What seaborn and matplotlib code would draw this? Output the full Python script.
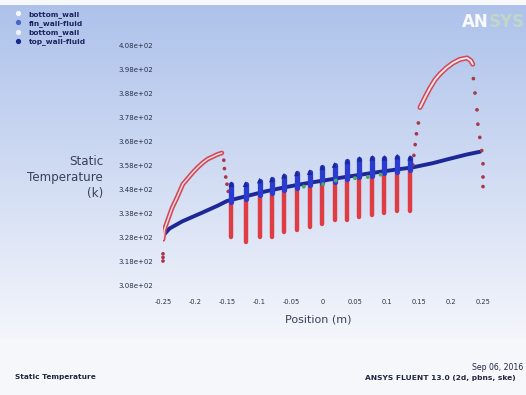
import numpy as np
import pandas as pd
import matplotlib
matplotlib.use("Agg")
import matplotlib.pyplot as plt
from matplotlib.lines import Line2D
import seaborn as sns

# ---------------- data ----------------
x_ticks = [-0.25, -0.2, -0.15, -0.1, -0.05, 0.0, 0.05, 0.1, 0.15, 0.2, 0.25]
x_tick_labels = ["-0.25", "-0.2", "-0.15", "-0.1", "-0.05", "0", "0.05", "0.1", "0.15", "0.2", "0.25"]
y_ticks = [308, 318, 328, 338, 348, 358, 368, 378, 388, 398, 408]
y_tick_labels = ["3.08e+02", "3.18e+02", "3.28e+02", "3.38e+02", "3.48e+02", "3.58e+02",
                 "3.68e+02", "3.78e+02", "3.88e+02", "3.98e+02", "4.08e+02"]

legend_labels = ["bottom_wall", "fin_wall-fluid", "bottom_wall", "top_wall-fluid"]

# centre line (dark blue)
center_x = [-0.25, -0.24, -0.22, -0.19, -0.165, -0.15, -0.12, -0.09, -0.06, -0.03, 0.0,
            0.03, 0.06, 0.09, 0.12, 0.14, 0.172, 0.198, 0.225, 0.245]
center_T = [328.5, 331.5, 334.5, 338.0, 341.0, 343.0, 345.0, 347.0, 348.7, 350.2, 351.5,
            352.8, 354.0, 355.2, 356.3, 357.0, 358.8, 360.6, 362.4, 363.5]

# left wall arc (red)
left_arc_x = [-0.25, -0.248, -0.242, -0.236, -0.228, -0.219, -0.211, -0.203, -0.195,
              -0.1875, -0.18, -0.172, -0.165, -0.158]
left_arc_T = [327.0, 331.0, 335.5, 340.0, 344.5, 350.0, 352.5, 355.0, 357.2,
              359.0, 360.5, 361.5, 362.4, 363.0]
left_drop_x = [-0.155, -0.154, -0.152, -0.150, -0.148, -0.25, -0.25, -0.25]
left_drop_T = [360.0, 356.5, 353.0, 350.0, 347.0, 321.0, 319.5, 318.0]

# right wall arc (red)
right_arc_x = [0.1516, 0.16, 0.167, 0.175, 0.183, 0.193, 0.203, 0.214, 0.225, 0.231, 0.234]
right_arc_T = [382.0, 386.5, 390.0, 393.5, 396.0, 398.5, 400.5, 402.0, 402.6, 401.5, 400.0]
right_rise_x = [0.1406, 0.142, 0.144, 0.146, 0.149]
right_rise_T = [358.0, 362.0, 366.5, 371.0, 375.5]
right_drop_x = [0.235, 0.2375, 0.2406, 0.242, 0.245, 0.248, 0.25, 0.25, 0.25]
right_drop_T = [394.0, 388.0, 381.0, 375.0, 369.5, 364.0, 358.5, 353.0, 349.0]

# fins in the middle section
fin_x = [-0.143, -0.121, -0.099, -0.080, -0.061, -0.041, -0.021, -0.001,
         0.018, 0.038, 0.057, 0.077, 0.096, 0.116, 0.136]
fin_red_bottom = [328.0, 326.0, 328.0, 328.0, 330.0, 331.0, 332.0, 333.5,
                  335.0, 335.0, 336.5, 337.0, 338.0, 339.0, 339.0]
fin_red_top = [342.5, 344.0, 345.5, 346.5, 347.5, 348.5, 349.5, 350.5,
               351.0, 352.0, 353.0, 353.5, 354.5, 355.0, 356.0]
fin_blue_peak = [350.0, 350.0, 351.5, 352.0, 353.5, 354.5, 355.0, 357.0,
                 358.0, 359.5, 360.5, 361.0, 361.0, 361.5, 361.0]

# small green points near the centre line
green_x = [-0.03, 0.0, 0.02, 0.05, 0.07, 0.09]
green_T = [349.0, 350.0, 351.5, 352.5, 353.0, 354.0]

# ---------------- figure ----------------
sns.set_style("white")
plt.rcParams["font.family"] = ["DejaVu Sans"]

W, H = 526, 395
fig = plt.figure(figsize=(W / 100, H / 100), dpi=100)

# background gradient (light blue -> white)
bg = fig.add_axes([0, 0, 1, 1], zorder=-10)
bg.axis("off")
top_c = np.array([0.68, 0.76, 0.92])
bot_c = np.array([0.955, 0.962, 0.985])
rows = np.arange(H)
t = np.clip((rows - 6) / (335 - 6), 0, 1)[:, None]
grad = top_c * (1 - t) + bot_c * t
grad[rows < 5] = np.array([0.97, 0.975, 0.99])
grad[rows > 338] = np.array([0.965, 0.97, 0.985])
img = np.repeat(grad[:, None, :], 4, axis=1)
bg.imshow(img, aspect="auto", extent=[0, 1, 0, 1], interpolation="bilinear")
bg.set_xlim(0, 1)
bg.set_ylim(0, 1)

ax = fig.add_axes([163 / W, 1 - 285 / H, (483 - 163) / W, (285 - 45) / H])
ax.patch.set_visible(False)

red = "#e02a30"
dark_red = "#a83848"
navy = "#1c2898"
blue = "#2a3cd0"

# centre line
sns.lineplot(x=center_x, y=center_T, ax=ax, color=navy, lw=2.8, sort=False, zorder=2)

# left arc
sns.lineplot(x=left_arc_x, y=left_arc_T, ax=ax, color="#d04858", lw=3.4, sort=False, zorder=3)
sns.lineplot(x=left_arc_x, y=left_arc_T, ax=ax, color="#f6d6dc", lw=1.1, sort=False, zorder=3)
sns.scatterplot(x=left_drop_x, y=left_drop_T, ax=ax, color=dark_red, s=7,
                edgecolor="none", zorder=3, clip_on=False)

# right arc
sns.lineplot(x=right_arc_x, y=right_arc_T, ax=ax, color="#d04858", lw=3.6, sort=False, zorder=3)
sns.lineplot(x=right_arc_x, y=right_arc_T, ax=ax, color="#fae2e6", lw=1.4, sort=False, zorder=3)
sns.scatterplot(x=right_rise_x, y=right_rise_T, ax=ax, color=dark_red, s=7,
                edgecolor="none", zorder=3, clip_on=False)
sns.scatterplot(x=right_drop_x, y=right_drop_T, ax=ax, color=dark_red, s=7,
                edgecolor="none", zorder=3, clip_on=False)

# fins: red streaks and blue peaks
ax.vlines(fin_x, fin_red_bottom, fin_red_top, colors=red, lw=3.2, zorder=3, alpha=0.9,
          capstyle="round")
ax.vlines(fin_x, fin_red_top, fin_blue_peak, colors=blue, lw=3.8, zorder=4,
          capstyle="round")
sns.scatterplot(x=fin_x, y=fin_blue_peak, ax=ax, color=navy, s=16, marker="^",
                edgecolor="none", zorder=4)
sns.scatterplot(x=green_x, y=green_T, ax=ax, color="#4aa868", s=8,
                edgecolor="none", zorder=5)

ax.set_xlim(-0.25, 0.25)
ax.set_ylim(308, 408)
ax.set_xticks(x_ticks)
ax.set_xticklabels(x_tick_labels, fontsize=4.8, color="#2a3048")
ax.set_yticks(y_ticks)
ax.set_yticklabels(y_tick_labels, fontsize=5.0, color="#2a3048")
ax.tick_params(axis="both", length=0)
ax.tick_params(axis="x", pad=10)
ax.tick_params(axis="y", pad=7)
for s in ax.spines.values():
    s.set_visible(False)
ax.set_xlabel("")
ax.set_ylabel("")

# axis titles
fig.text(318 / W, 1 - 320 / H, "Position (m)", fontsize=8.0, color="#3a4058",
         ha="center", va="center")
fig.text(103 / W, 1 - 178 / H, "Static\nTemperature\n(k)", fontsize=8.6, color="#3a4058",
         ha="right", va="center", linespacing=1.3, multialignment="right")

# legend
cols = ["#f4f6fb", "#4868c8", "#eef0f8", "#1c2890"]
handles = [Line2D([], [], marker="o", ls="none", markersize=2.8, markerfacecolor=c,
                  markeredgecolor=c) for c in cols]
fig.legend(handles, legend_labels, loc="upper left", bbox_to_anchor=(11 / W, 1 - 6 / H),
           frameon=False, prop={"size": 5.3, "weight": "bold"}, handlelength=0.8,
           handletextpad=1.0, labelspacing=0.3, borderpad=0.1, labelcolor="#1c2460")

# logo
fig.text(462 / W, 1 - 22 / H, "AN", fontsize=12, color="white", fontweight="bold",
         ha="left", va="center", alpha=0.92)
fig.text(489 / W, 1 - 22 / H, "SYS", fontsize=12, color="#c8e0b8", fontweight="bold",
         ha="left", va="center", alpha=0.7)

# footer
fig.text(15 / W, 1 - 377 / H, "Static Temperature", fontsize=5.3, color="#202840",
         fontweight="bold", ha="left", va="center")
fig.text(472 / W, 1 - 368 / H, "Sep 06, 2016", fontsize=5.6, color="#202840",
         ha="left", va="center")
fig.text(365 / W, 1 - 378 / H, "ANSYS FLUENT 13.0 (2d, pbns, ske)", fontsize=5.4,
         color="#202840", fontweight="bold", ha="left", va="center")

fig.savefig("out.png", dpi=100)
